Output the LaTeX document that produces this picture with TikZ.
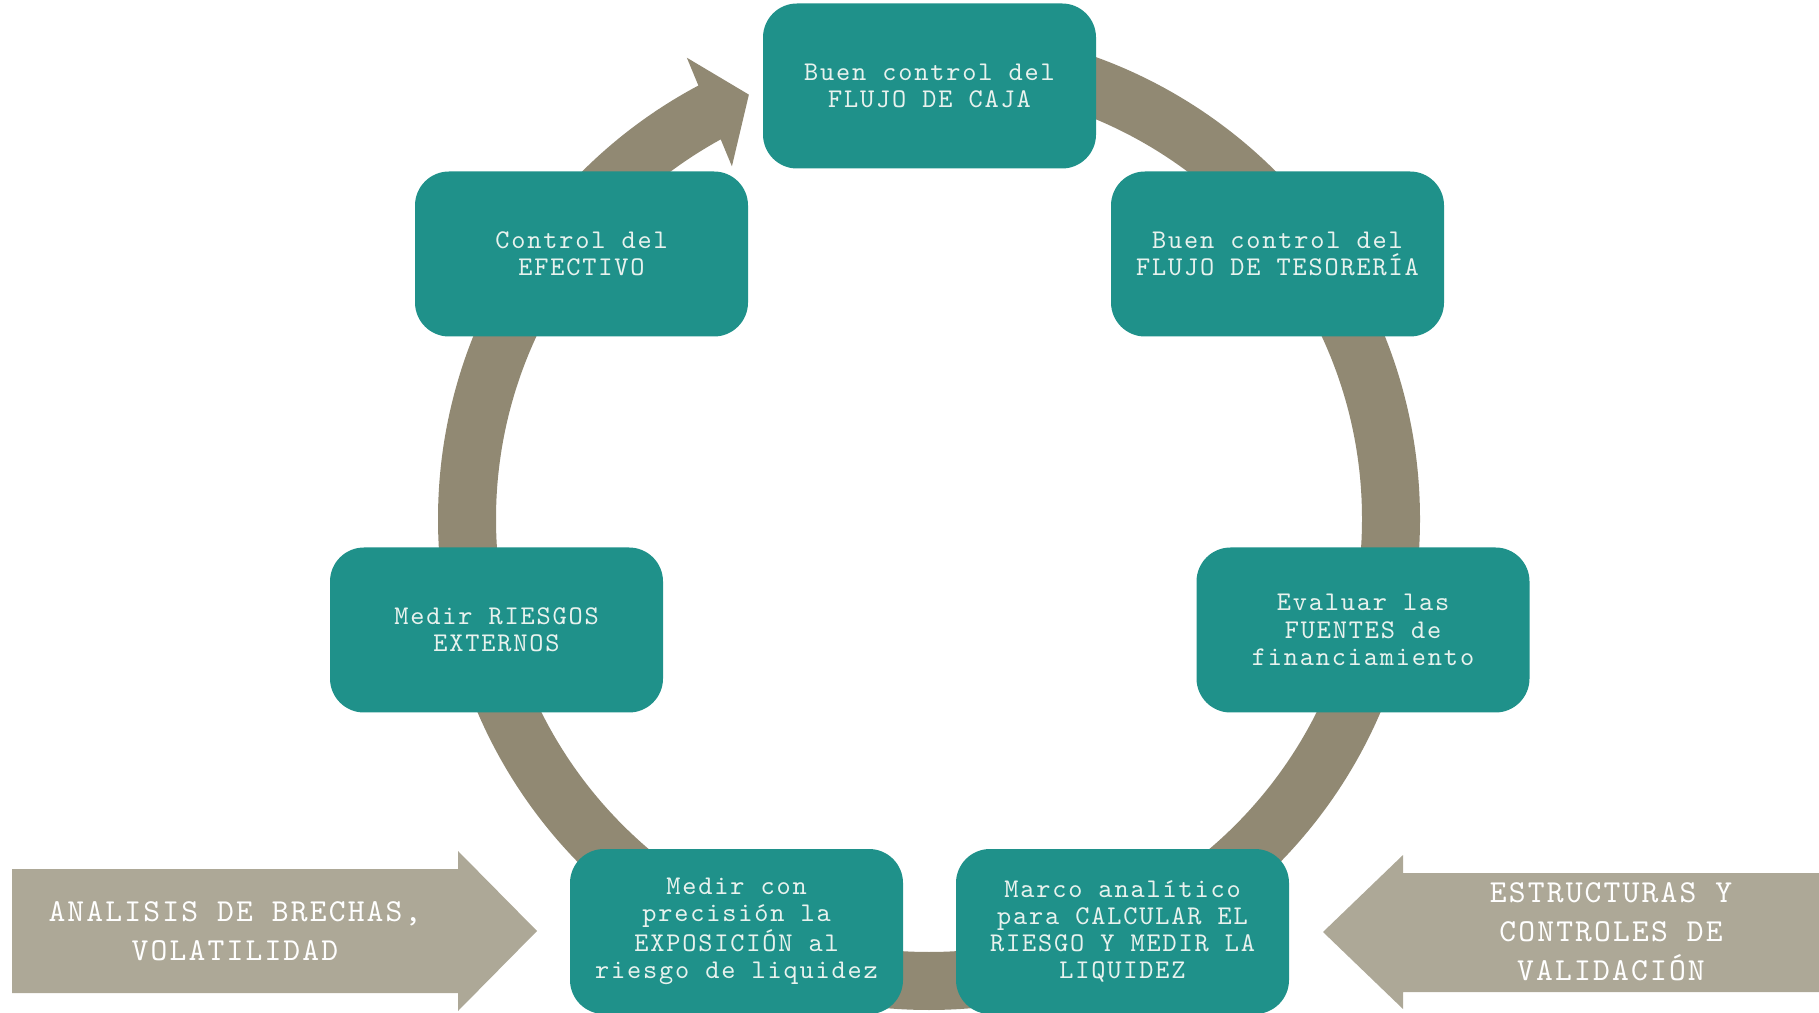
\documentclass[tikz,border=0pt]{standalone}
\usepackage{fontspec}
\newfontfamily\cour{lmmono10-regular.otf}[LetterSpace=6.8]
\usepackage{xcolor}
\usepackage{tikz}
\usetikzlibrary{shapes,calc}
\definecolor{boxteal}{RGB}{31,145,138}
\definecolor{ringgray}{RGB}{145,137,115}
\definecolor{sidegray}{RGB}{173,168,151}
\definecolor{boxtext}{RGB}{232,242,238}

\begin{document}
\begin{tikzpicture}[x=0.5pt,y=0.5pt,
  paso/.style={fill=boxteal,rounded corners=17pt,minimum width=166.5pt,minimum height=82.5pt,
    inner sep=0pt,text=boxtext,align=center,font=\cour\fontsize{13.5pt}{13.6pt}\selectfont},
  lado/.style={text=white,align=center,font=\cour\fontsize{16pt}{19.5pt}\selectfont},
  ]
\useasboundingbox (0,0) rectangle (1819,1012);
%% ring
\coordinate (o) at (929,493);
\draw [ringgray,line width=29pt] ([shift={(90:462)}]o) arc[start angle=90,end angle=-242.2,radius=231pt];
\fill [ringgray] ([shift={(117.7:521)}]o) -- ([shift={(113:461)}]o) -- ([shift={(119.2:404)}]o) -- cycle;
%% steps
\node (caja) at (929.5,926) [paso] {Buen control del\\FLUJO DE CAJA};
  \node (tesoreria) at (1277.5,758) [paso] {Buen control del\\FLUJO DE TESORERÍA};
  \node (fuentes) at (1363,382) [paso] {Evaluar las\\FUENTES de\\financiamiento};
  \node (marco) at (1122.5,80.5) [paso] {Marco analítico\\para CALCULAR EL\\RIESGO Y MEDIR LA\\LIQUIDEZ};
  \node (exposicion) at (736.5,80.5) [paso] {Medir con\\precisión la\\EXPOSICIÓN al\\riesgo de liquidez};
  \node (riesgos) at (496.5,382) [paso] {Medir RIESGOS\\EXTERNOS};
  \node (efectivo) at (581.5,758) [paso] {Control del\\EFECTIVO};
%% side arrows
\fill [sidegray] (12,19) -- (458,19) -- (458,1) -- (537,81) -- (458,161) -- (458,143) -- (12,143) -- cycle;
  \node (brechas) at (235,81) [lado] {ANALISIS DE BRECHAS,\\VOLATILIDAD};
\fill [sidegray] (1819,20) -- (1403,20) -- (1403,3) -- (1323,80) -- (1403,157) -- (1403,139) -- (1819,139) -- cycle;
  \node (validacion) at (1611,80) [lado] {ESTRUCTURAS Y\\CONTROLES DE\\VALIDACIÓN};
%
\end{tikzpicture}
\end{document}
